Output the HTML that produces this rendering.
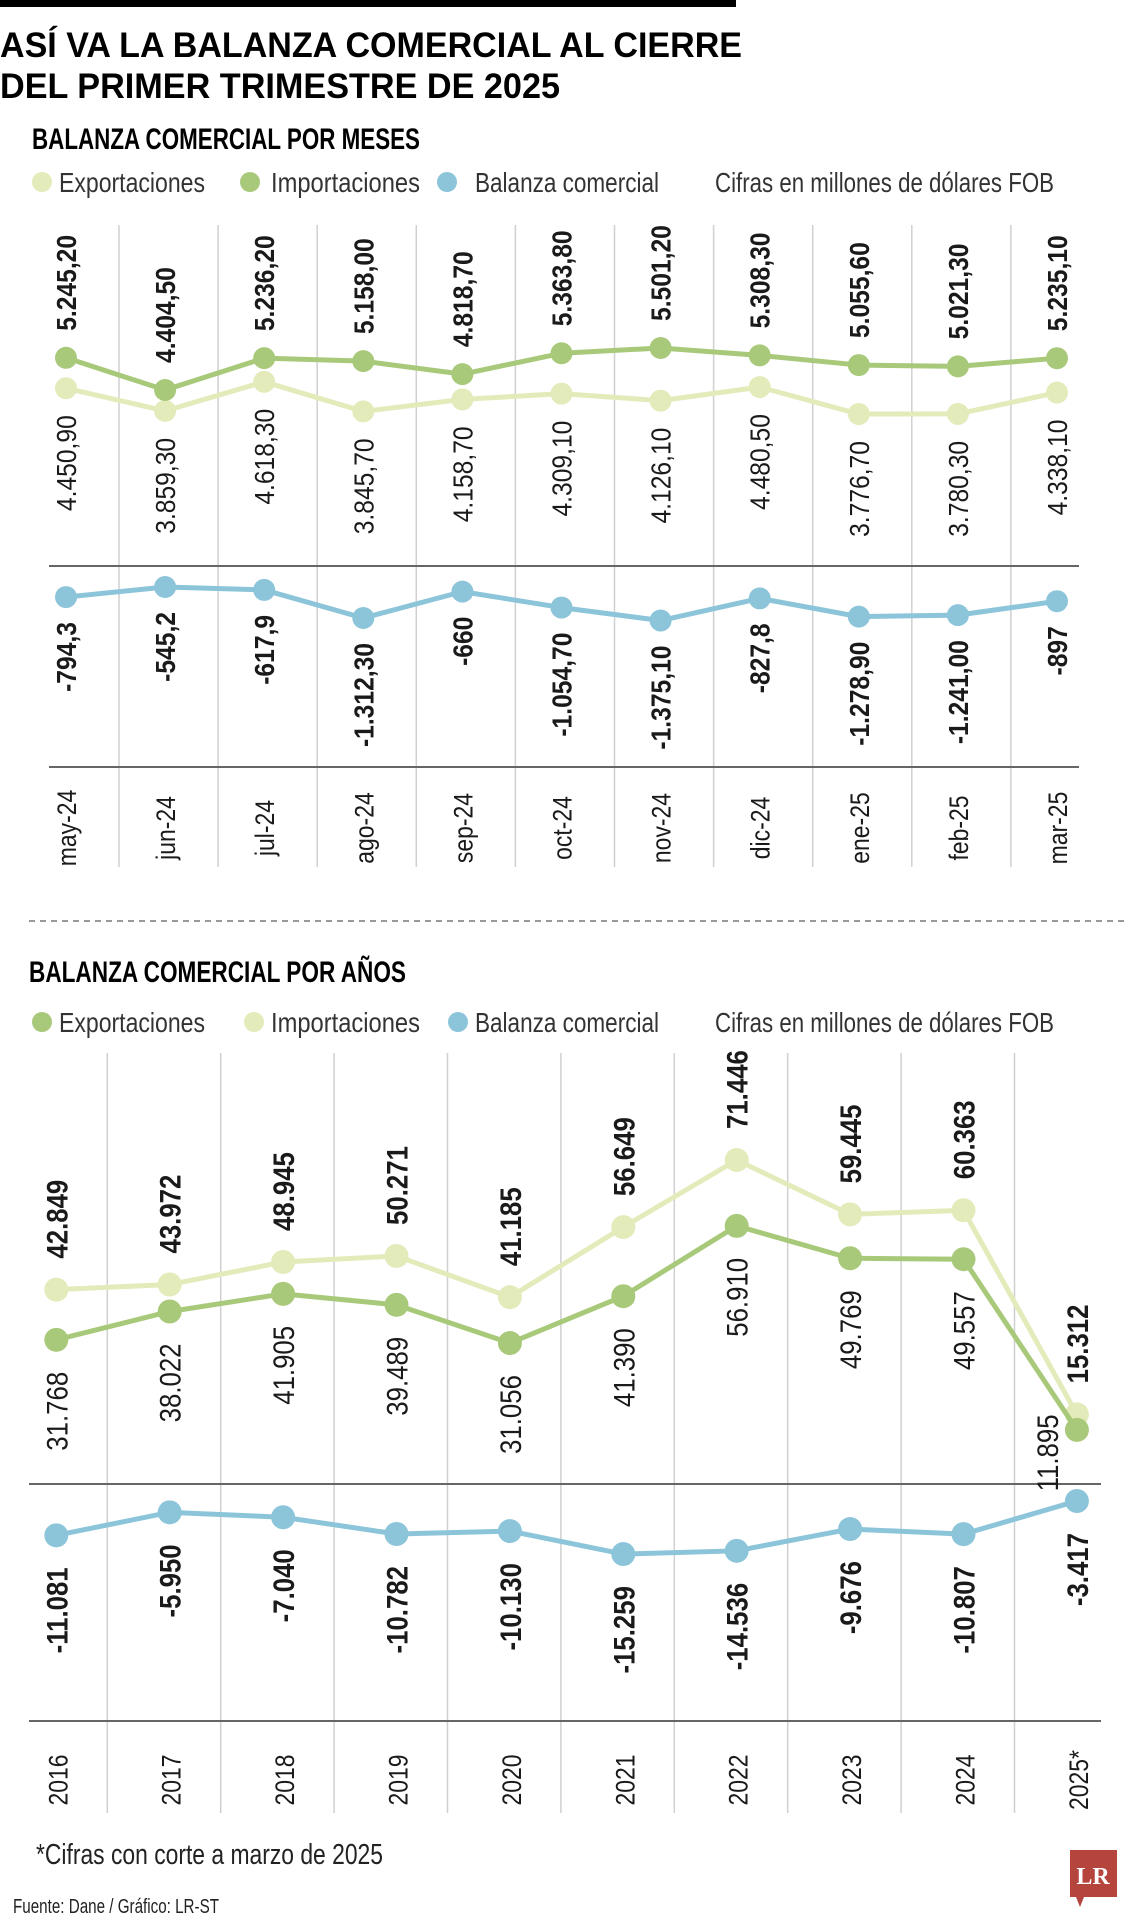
<!DOCTYPE html>
<html><head><meta charset="utf-8">
<style>
html,body{margin:0;padding:0;background:#fff;}
svg{display:block;font-family:"Liberation Sans",sans-serif;}
</style></head>
<body>
<svg id="chart" width="1126" height="1920" viewBox="0 0 1126 1920" xmlns="http://www.w3.org/2000/svg">
<rect x="0" y="0" width="736" height="7" fill="#000"/>
<text x="0" y="57" font-size="35" font-weight="bold" textLength="742" lengthAdjust="spacingAndGlyphs">ASÍ VA LA BALANZA COMERCIAL AL CIERRE</text>
<text x="0" y="98" font-size="35" font-weight="bold" textLength="560" lengthAdjust="spacingAndGlyphs">DEL PRIMER TRIMESTRE DE 2025</text>
<text x="32" y="149" font-size="30" font-weight="bold" textLength="388" lengthAdjust="spacingAndGlyphs">BALANZA COMERCIAL POR MESES</text>
<g>
<circle cx="42" cy="182" r="10" fill="#e3ebbb"/>
<text x="59" y="192" font-size="28" fill="#333" textLength="146" lengthAdjust="spacingAndGlyphs">Exportaciones</text>
<circle cx="250" cy="182" r="10" fill="#a9c97a"/>
<text x="271" y="192" font-size="28" fill="#333" textLength="149" lengthAdjust="spacingAndGlyphs">Importaciones</text>
<circle cx="447" cy="182" r="10" fill="#8cc5da"/>
<text x="475" y="192" font-size="28" fill="#333" textLength="184" lengthAdjust="spacingAndGlyphs">Balanza comercial</text>
<text x="715" y="192" font-size="28" fill="#333" textLength="339" lengthAdjust="spacingAndGlyphs">Cifras en millones de dólares FOB</text>
</g>
<line x1="29" y1="921" x2="1126" y2="921" stroke="#999" stroke-width="2" stroke-dasharray="6,5"/>
<text x="29" y="982" font-size="30" font-weight="bold" textLength="377" lengthAdjust="spacingAndGlyphs">BALANZA COMERCIAL POR AÑOS</text>
<g>
<circle cx="42" cy="1022" r="10" fill="#a9c97a"/>
<text x="59" y="1032" font-size="28" fill="#333" textLength="146" lengthAdjust="spacingAndGlyphs">Exportaciones</text>
<circle cx="254" cy="1022" r="10" fill="#e3ebbb"/>
<text x="271" y="1032" font-size="28" fill="#333" textLength="149" lengthAdjust="spacingAndGlyphs">Importaciones</text>
<circle cx="458" cy="1022" r="10" fill="#8cc5da"/>
<text x="475" y="1032" font-size="28" fill="#333" textLength="184" lengthAdjust="spacingAndGlyphs">Balanza comercial</text>
<text x="715" y="1032" font-size="28" fill="#333" textLength="339" lengthAdjust="spacingAndGlyphs">Cifras en millones de dólares FOB</text>
</g>
<text x="36" y="1864" font-size="29" fill="#222" textLength="347" lengthAdjust="spacingAndGlyphs">*Cifras con corte a marzo de 2025</text>
<text x="13" y="1913" font-size="20" fill="#222" textLength="206" lengthAdjust="spacingAndGlyphs">Fuente: Dane / Gráfico: LR-ST</text>
<g>
<path d="M1070 1850 H1117 V1897 H1084 L1080 1907 L1076 1897 H1070 Z" fill="#b4443c"/>
<text x="1093" y="1884" font-size="24" font-weight="bold" fill="#fff" text-anchor="middle" font-family="Liberation Serif, serif">LR</text>
</g>
<g id="monthly"></g>
<g id="yearly"></g>
</svg>
<script>
// ---- Monthly data ----
const months = ["may-24","jun-24","jul-24","ago-24","sep-24","oct-24","nov-24","dic-24","ene-25","feb-25","mar-25"];
const mImports = [5245.20,4404.50,5236.20,5158.00,4818.70,5363.80,5501.20,5308.30,5055.60,5021.30,5235.10];
const mExports = [4450.90,3859.30,4618.30,3845.70,4158.70,4309.10,4126.10,4480.50,3776.70,3780.30,4338.10];
const mBalance = [-794.3,-545.2,-617.9,-1312.30,-660,-1054.70,-1375.10,-827.8,-1278.90,-1241.00,-897];
const mBalanceLabels = ["-794,3","-545,2","-617,9","-1.312,30","-660","-1.054,70","-1.375,10","-827,8","-1.278,90","-1.241,00","-897"];
// ---- Yearly data ----
const years = ["2016","2017","2018","2019","2020","2021","2022","2023","2024","2025*"];
const yExports = [31768,38022,41905,39489,31056,41390,56910,49769,49557,11895];
const yImports = [42849,43972,48945,50271,41185,56649,71446,59445,60363,15312];
const yBalance = [-11081,-5950,-7040,-10782,-10130,-15259,-14536,-9676,-10807,-3417];

const NS="http://www.w3.org/2000/svg";
function mk(parent,tag,attrs){const e=document.createElementNS(NS,tag);for(const k in attrs)e.setAttribute(k,attrs[k]);parent.appendChild(e);return e;}
function fmt(v,dec){const s=Math.abs(v).toFixed(dec);let [i,d]=s.split(".");i=i.replace(/\B(?=(\d{3})+(?!\d))/g,".");return (v<0?"-":"")+i+(d?","+d:"");}
function vlabel(parent,x,y,txt,anchor,bold,size,sx){
  const t=mk(parent,"text",{transform:`translate(${x},${y}) rotate(-90) scale(${sx},1)`,"text-anchor":anchor,"font-size":size,"font-weight":bold?"bold":"normal",fill:"#1a1a1a"});
  t.textContent=txt;return t;
}

// Monthly scales
const mX = i => 66 + i*99.1;
const mY = v => 390 - (v-4404.5)*0.0383;
const mYB = v => 587 + (-545.2 - v)*0.0404;
const gM=document.getElementById("monthly");


for(let i=0;i<months.length-1;i++){
  const l=mk(gM,"line",{x1:mX(i)+53,x2:mX(i)+53,y1:225,y2:867,stroke:"#d0d0d0","stroke-width":1.5});
  
  
}
[566,767].forEach(y=>{const l=mk(gM,"line",{x1:49,x2:1079,y1:y,y2:y,stroke:"#666","stroke-width":2});
  
  });
function series(g,xs,vals,yf,color,r,name){
  const pts=vals.map((v,i)=>xs(i)+","+yf(v)).join(" ");
  const pl=mk(g,"polyline",{points:pts,fill:"none",stroke:color,"stroke-width":5,"stroke-linejoin":"round"});
  
  
  vals.forEach((v,i)=>{const c=mk(g,"circle",{cx:xs(i),cy:yf(v),r:r,fill:color});
    
    });
}
series(gM,mX,mExports,mY,"#e3ebbb",11,"monthly-exports");
series(gM,mX,mImports,mY,"#a9c97a",11,"monthly-imports");
series(gM,mX,mBalance,mYB,"#8cc5da",11,"monthly-balance");
months.forEach((m,i)=>{
  const x=mX(i)+10;
  let t=vlabel(gM,x,mY(mImports[i])-27,fmt(mImports[i],2),"start",true,28,0.88);
  
  
  t=vlabel(gM,x,mY(mExports[i])+27,fmt(mExports[i],2),"end",false,28,0.88);
  
  
  t=vlabel(gM,x,mYB(mBalance[i])+25,mBalanceLabels[i],"end",true,28,0.88);
  
  
  t=vlabel(gM,x,828,m,"middle",false,27,0.85);
  
  
});

// Yearly scales
const yX = i => 56.3 + i*113.4;
const yY = v => 1483.8 - v*0.004532;
const yYB = v => 1501 + (-3417 - v)*0.00448;
const gY=document.getElementById("yearly");


for(let i=0;i<years.length-1;i++){
  const l=mk(gY,"line",{x1:yX(i)+51,x2:yX(i)+51,y1:1053,y2:1813,stroke:"#d0d0d0","stroke-width":1.5});
  
  
}
[1484,1721].forEach(y=>{const l=mk(gY,"line",{x1:29,x2:1101,y1:y,y2:y,stroke:"#666","stroke-width":2});
  
  });
series(gY,yX,yImports,yY,"#e3ebbb",12,"yearly-imports");
series(gY,yX,yExports,yY,"#a9c97a",12,"yearly-exports");
series(gY,yX,yBalance,yYB,"#8cc5da",12,"yearly-balance");
years.forEach((yr,i)=>{
  const x=yX(i)+11;
  let t=vlabel(gY,x,yY(yImports[i])-31,fmt(yImports[i],0),"start",true,30,0.86);
  
  
  const last=i===years.length-1;
  t=vlabel(gY,last?x-30:x,last?yY(yImports[i]):yY(yExports[i])+32,fmt(yExports[i],0),"end",false,30,0.86);
  
  
  t=vlabel(gY,x,yYB(yBalance[i])+32,fmt(yBalance[i],0),"end",true,30,0.86);
  
  
  t=vlabel(gY,x,1780,yr,"middle",false,27,0.85);
  
  
});
</script>
</body></html>
